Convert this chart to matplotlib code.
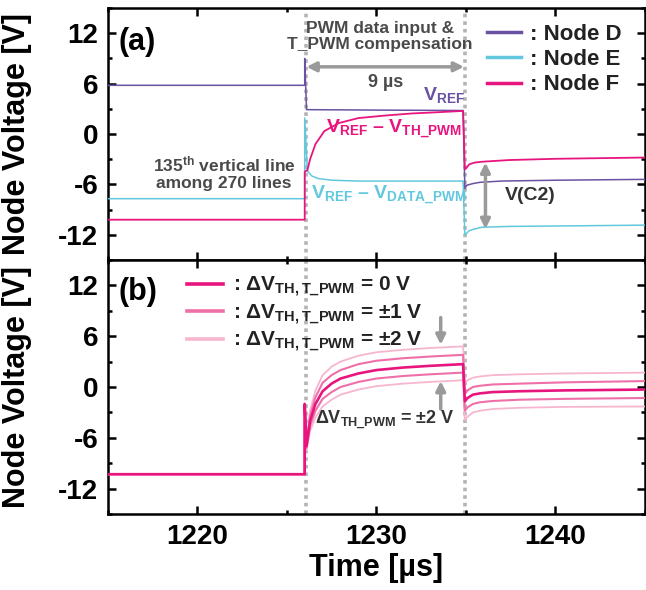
import matplotlib
matplotlib.use("Agg")
import matplotlib.pyplot as plt
from matplotlib.lines import Line2D
from matplotlib.ticker import MultipleLocator

plt.rcParams['font.family'] = ['Liberation Sans', 'DejaVu Sans']
plt.rcParams['font.weight'] = 'bold'
plt.rcParams['axes.labelweight'] = 'bold'
plt.rcParams['axes.unicode_minus'] = False
plt.rcParams['mathtext.fontset'] = 'custom'
plt.rcParams['mathtext.rm'] = 'Liberation Sans:bold'
plt.rcParams['mathtext.it'] = 'Liberation Sans:bold'
plt.rcParams['mathtext.bf'] = 'Liberation Sans:bold'

# ---- panel (a): node voltages ----
t_D = [1215, 1226.0, 1226.0, 1226.1, 1226.2, 1230, 1234.85, 1234.95, 1235.05, 1235.4, 1235.8, 1237, 1240, 1245]
v_D = [5.8, 5.8, 9.0, 2.9, 2.9, 2.85, 2.8, -6.5, -6.1, -5.9, -5.75, -5.6, -5.5, -5.4]

t_E = [1215, 1226.0, 1226.0, 1226.15, 1226.4, 1226.75, 1227.5, 1229, 1234.85, 1234.95, 1235.05,
       1235.2, 1235.5, 1235.9, 1237.4, 1240, 1245]
v_E = [-7.7, -7.7, 1.9, -4.4, -5.0, -5.3, -5.5, -5.6, -5.6, -12.0, -11.8,
       -11.5, -11.3, -11.1, -11.0, -10.95, -10.85]

t_F = [1215, 1226.0, 1226.0, 1226.15, 1226.3, 1226.6, 1227.1, 1227.9, 1229, 1230.5, 1232, 1233.5,
       1234.85, 1234.95, 1235.05, 1235.2, 1235.5, 1235.9, 1237.4, 1240, 1245]
v_F = [-10.2, -10.2, -4.5, -4.3, -3.0, -1.2, 0.35, 1.3, 1.9, 2.2, 2.45, 2.6,
       2.75, -4.2, -4.0, -3.6, -3.4, -3.3, -3.1, -2.95, -2.8]

# ---- panel (b): node F for different threshold shifts ----
t_B = [1215, 1226.0, 1226.0, 1226.1, 1226.3, 1226.6, 1227.0, 1227.5, 1228.0, 1229.0, 1230.0, 1231.5,
       1233.0, 1234.85, 1234.95, 1235.1, 1235.4, 1235.8, 1236.5, 1238, 1240.5, 1245]
v_p2 = [-10.3, -10.3, -2.0, -6.6, -2.8, -0.4, 1.4, 2.4, 3.0, 3.7, 4.1, 4.4,
        4.6, 4.8, 0.4, 0.8, 1.1, 1.25, 1.4, 1.5, 1.6, 1.7]
v_p1 = [-10.3, -10.3, -2.0, -6.8, -3.4, -1.2, 0.5, 1.4, 2.0, 2.7, 3.1, 3.4,
        3.6, 3.8, -0.8, -0.4, 0.0, 0.15, 0.3, 0.4, 0.55, 0.7]
v_0 = [-10.3, -10.3, -2.0, -7.0, -4.0, -2.0, -0.5, 0.4, 1.0, 1.6, 2.0, 2.3,
       2.5, 2.7, -1.7, -1.3, -0.9, -0.75, -0.6, -0.5, -0.4, -0.3]
v_m1 = [-10.3, -10.3, -2.0, -7.2, -4.6, -2.8, -1.4, -0.6, 0.0, 0.6, 1.0, 1.3,
        1.5, 1.7, -2.8, -2.4, -2.0, -1.8, -1.65, -1.5, -1.4, -1.3]
v_m2 = [-10.3, -10.3, -2.0, -7.4, -5.2, -3.6, -2.3, -1.5, -0.9, -0.3, 0.1, 0.4,
        0.6, 0.8, -3.9, -3.5, -3.0, -2.8, -2.6, -2.45, -2.35, -2.3]

t_start, t_end = 1226.05, 1234.95

c_D, c_E, c_F = '#6a52a3', '#62c8dd', '#e8157f'
c_1, c_2 = '#ef70a8', '#f7b6d0'
grey_txt = '#4a4a4a'
arrow_c = '#9a9a9a'

fig = plt.figure(figsize=(6.46, 5.90), dpi=100)
ax1 = fig.add_axes([0.167, 0.5593, 0.831, 0.4271])
ax2 = fig.add_axes([0.167, 0.1288, 0.831, 0.4305])

for ax in (ax1, ax2):
    ax.set_xlim(1215, 1245)
    ax.set_ylim(-15, 15)
    ax.set_yticks([-12, -6, 0, 6, 12])
    ax.set_xticks([1220, 1230, 1240])
    ax.xaxis.set_minor_locator(MultipleLocator(5))
    ax.yaxis.set_minor_locator(MultipleLocator(3))
    ax.tick_params(which='both', direction='in', top=True, right=True, width=1.8)
    ax.tick_params(which='major', length=6, labelsize=20, pad=7)
    ax.tick_params(which='minor', length=3)
    for s in ax.spines.values():
        s.set_linewidth(1.8)
    for tl in ax.get_xticklabels() + ax.get_yticklabels():
        tl.set_fontweight('bold')
    ax.axvline(t_start, color='#b4b4b4', lw=2.6, ls=(0, (1, 1.1)), zorder=1)
    ax.axvline(t_end, color='#b4b4b4', lw=2.6, ls=(0, (1, 1.1)), zorder=1)
    ax.set_ylabel('Node Voltage [V]', fontsize=22, fontweight='bold')
    ax.yaxis.set_label_coords(-0.142, 0.5)

ax1.tick_params(labelbottom=False)

# panel (a)
ax1.plot(t_D, v_D, color=c_D, lw=1.1, zorder=3)
ax1.plot(t_E, v_E, color=c_E, lw=1.1, zorder=3)
ax1.plot(t_F, v_F, color=c_F, lw=1.3, zorder=3)

ax1.text(0.02, 0.865, '(a)', transform=ax1.transAxes, fontsize=22, fontweight='bold', va='center')
ax1.text(1230.2, 11.6, 'PWM data input &\nT_PWM compensation', color=grey_txt, fontsize=12.5,
         ha='center', va='center', linespacing=1.15)
ax1.annotate('', xy=(t_end - 0.05, 8.0), xytext=(t_start + 0.05, 8.0),
             arrowprops=dict(arrowstyle='<|-|>', color=arrow_c, lw=2.5, mutation_scale=14,
                             shrinkA=0, shrinkB=0))
ax1.text(1230.5, 6.1, '9 µs', color=grey_txt, fontsize=13, ha='center', va='center')
ax1.text(1233.8, 4.6, 'V$_{REF}$', color=c_D, fontsize=14, ha='center', va='center')
ax1.text(1231.0, 0.6, 'V$_{REF}$ – V$_{TH\\_PWM}$', color=c_F, fontsize=14, ha='center', va='center')
ax1.text(1230.7, -7.3, 'V$_{REF}$ – V$_{DATA\\_PWM}$', color=c_E, fontsize=14, ha='center', va='center')
ax1.text(1221.5, -4.6, '135$^{th}$ vertical line\namong 270 lines', color=grey_txt, fontsize=12.5,
         ha='center', va='center', linespacing=1.2)
ax1.annotate('', xy=(1236.1, -11.3), xytext=(1236.1, -3.4),
             arrowprops=dict(arrowstyle='<|-|>', color=arrow_c, lw=2.5, mutation_scale=14,
                             shrinkA=0, shrinkB=0))
ax1.text(1238.6, -7.3, 'V(C2)', color='#333333', fontsize=14, ha='center', va='center')

leg1 = ax1.legend(handles=[Line2D([], [], color=c_D, lw=2.5),
                           Line2D([], [], color=c_E, lw=2.5),
                           Line2D([], [], color=c_F, lw=2.5)],
                  labels=[': Node D', ': Node E', ': Node F'],
                  loc='upper right', bbox_to_anchor=(0.985, 1.0), frameon=False, fontsize=16,
                  handlelength=1.5, handletextpad=0.4, labelspacing=0.2, borderaxespad=0.3)
for txt in leg1.get_texts():
    txt.set_color('#222222')

# panel (b)
ax2.plot(t_B, v_p2, color=c_2, lw=1.3, zorder=3)
ax2.plot(t_B, v_m2, color=c_2, lw=1.3, zorder=3)
ax2.plot(t_B, v_p1, color=c_1, lw=1.5, zorder=3)
ax2.plot(t_B, v_m1, color=c_1, lw=1.5, zorder=3)
ax2.plot(t_B, v_0, color=c_F, lw=1.9, zorder=4)

ax2.text(0.02, 0.874, '(b)', transform=ax2.transAxes, fontsize=22, fontweight='bold', va='center')
lab = ': ΔV$_{TH,T\\_PWM}$ = '
leg2 = ax2.legend(handles=[Line2D([], [], color=c_F, lw=2.6),
                           Line2D([], [], color=c_1, lw=2.6),
                           Line2D([], [], color=c_2, lw=2.6)],
                  labels=[lab + '0 V', lab + '±1 V', lab + '±2 V'],
                  loc='upper left', bbox_to_anchor=(0.125, 0.99), frameon=False, fontsize=15,
                  handlelength=1.7, handletextpad=0.5, labelspacing=0.15, borderaxespad=0.2)
for txt in leg2.get_texts():
    txt.set_color('#222222')

ax2.annotate('', xy=(1233.6, 5.0), xytext=(1233.6, 8.2),
             arrowprops=dict(arrowstyle='-|>', color=arrow_c, lw=2.5, mutation_scale=14,
                             shrinkA=0, shrinkB=0))
ax2.annotate('', xy=(1233.6, 0.7), xytext=(1233.6, -2.6),
             arrowprops=dict(arrowstyle='-|>', color=arrow_c, lw=2.5, mutation_scale=14,
                             shrinkA=0, shrinkB=0))
ax2.text(1230.5, -3.9, 'ΔV$_{TH\\_PWM}$ = ±2 V', color='#333333', fontsize=13, ha='center', va='center')

ax2.set_xlabel('Time [µs]', fontsize=22, fontweight='bold', labelpad=2)

fig.savefig('out.png', dpi=100)
